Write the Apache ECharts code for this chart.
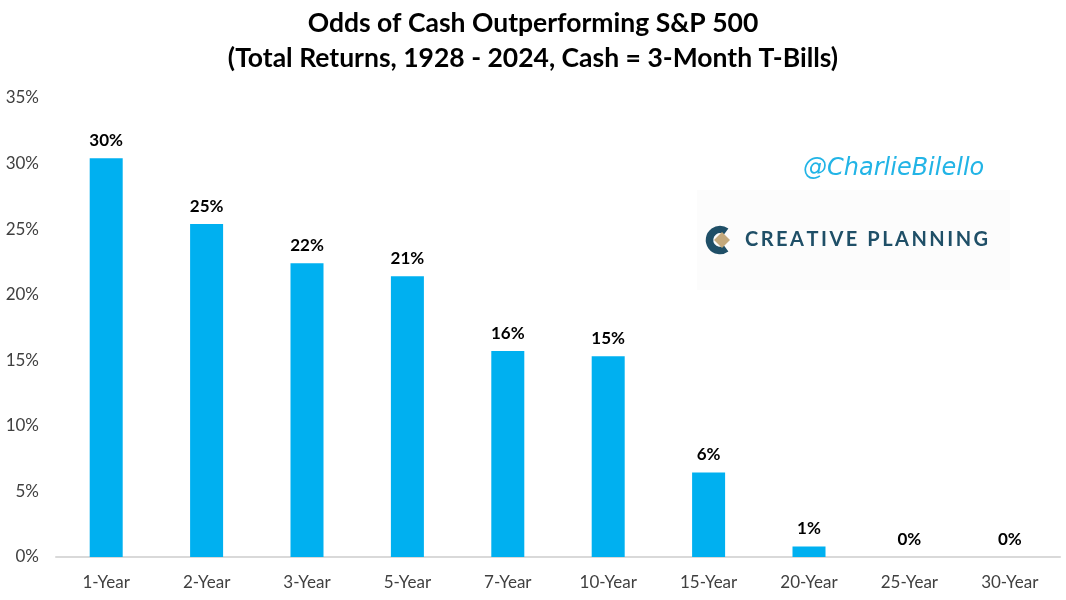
<!DOCTYPE html>
<html>
<head>
<meta charset="utf-8">
<title>Odds of Cash Outperforming S&P 500</title>
<script src="https://cdn.jsdelivr.net/npm/echarts@6/dist/echarts.min.js"></script>
<style>
    html, body { margin: 0; padding: 0; background: #fff; }
    #chart { width: 1066px; height: 600px; }
</style>
</head>
<body>
<div id="chart"></div>
<script>
// holding periods and odds (%) that cash beat the S&P 500
var periods = ['1-Year', '2-Year', '3-Year', '5-Year', '7-Year', '10-Year', '15-Year', '20-Year', '25-Year', '30-Year'];
var odds = [30.4, 25.4, 22.4, 21.4, 15.7, 15.3, 6.45, 0.8, 0, 0];
var yTicks = { min: 0, max: 35, step: 5 };

var FONT = 'Lato';

var chart = echarts.init(document.getElementById('chart'));

var option = {
    backgroundColor: '#ffffff',
    animation: false,
    title: {
        text: 'Odds of Cash Outperforming S&P 500\n(Total Returns, 1928 - 2024, Cash = 3-Month T-Bills)',
        left: 'center',
        top: 1,
        textStyle: {
            fontFamily: FONT,
            fontSize: 26.5,
            fontWeight: 'bold',
            color: '#000',
            lineHeight: 35
        }
    },
    grid: {
        left: 56,
        right: 6,
        top: 98,
        bottom: 43
    },
    xAxis: {
        type: 'category',
        data: periods,
        axisLine: { lineStyle: { color: '#d9d9d9', width: 2 } },
        axisTick: { show: false },
        axisLabel: {
            fontFamily: FONT,
            fontSize: 17,
            color: '#404040',
            margin: 17
        }
    },
    yAxis: {
        type: 'value',
        min: yTicks.min,
        max: yTicks.max,
        interval: yTicks.step,
        splitLine: { show: false },
        axisLine: { show: false },
        axisTick: { show: false },
        axisLabel: {
            formatter: '{value}%',
            fontFamily: FONT,
            fontSize: 17,
            color: '#404040',
            margin: 17
        }
    },
    // watermark + logo
    graphic: [
        {
            type: 'rect',
            left: 697,
            top: 190,
            shape: { width: 313, height: 100 },
            style: { fill: '#fcfcfc' },
            z: -1
        },
        {
            type: 'text',
            left: 803,
            top: 157,
            style: {
                text: '@CharlieBilello',
                fontFamily: 'DejaVu Sans',
                fontStyle: 'italic',
                fontSize: 24,
                fill: '#22b4e6'
            }
        },
        {
            // C mark
            type: 'arc',
            shape: { cx: 720, cy: 240, r: 10.5, startAngle: Math.PI * 0.3, endAngle: Math.PI * 1.7, clockwise: true },
            style: { stroke: '#1f4f67', lineWidth: 7.5, fill: null }
        },
        {
            type: 'polygon',
            shape: { points: [[722, 232], [730, 240], [722, 248], [714, 240]] },
            style: { fill: '#c4a97c' }
        },
        {
            type: 'text',
            left: 745,
            top: 230,
            style: {
                text: 'C\u2009R\u2009E\u2009A\u2009T\u2009I\u2009V\u2009E\u2002P\u2009L\u2009A\u2009N\u2009N\u2009I\u2009N\u2009G',
                fontFamily: FONT,
                fontWeight: 'bold',
                fontSize: 20,
                fill: '#1f4f67'
            }
        }
    ],
    series: [
        {
            type: 'bar',
            data: odds,
            barWidth: 33,
            itemStyle: { color: '#00b0f0' },
            label: {
                show: true,
                position: 'top',
                distance: 9,
                formatter: function (p) { return Math.round(p.value) + '%'; },
                fontFamily: FONT,
                fontSize: 17,
                fontWeight: 'bold',
                color: '#000'
            }
        }
    ]
};

chart.setOption(option);
</script>
</body>
</html>
